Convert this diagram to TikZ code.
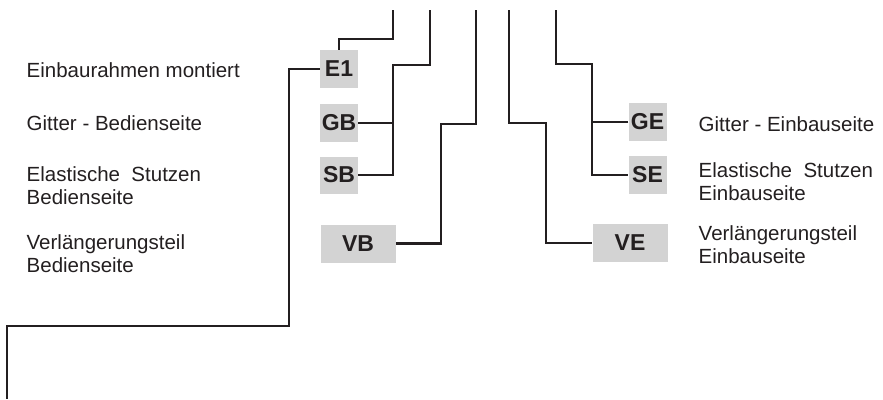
\documentclass[tikz,border=0pt]{standalone}
\usepackage{fontspec}
\setmainfont{Liberation Sans}
\usepackage{tikz}
\usetikzlibrary{positioning}
\definecolor{cBox}{HTML}{D3D3D3}
\definecolor{cLine}{HTML}{231F20}

\begin{document}
\begin{tikzpicture}[
  x=1pt, y=-1pt,
  tag/.style={
    fill=cBox, inner sep=0pt, minimum height=38pt,
    font=\fontsize{23}{24}\selectfont\bfseries, text=cLine
  },
  tagS/.style={tag, minimum width=38pt},
  tagW/.style={tag, minimum width=75pt},
  lbl/.style={
    anchor=base west, inner sep=0pt, align=left,
    font=\fontsize{20.5}{23}\selectfont, text=cLine
  },
  wire/.style={draw=cLine, line width=2.5pt},
]
\useasboundingbox (0,0) rectangle (883,399);
% boxes, left
\node[tagS] (E1) at (339,69) {E1};
\node[tagS] (GB) at (339,123) {GB};
\node[tagS, minimum height=37pt] (SB) at (339,175) {SB};
\node[tagW] (VB) at (358,243.5) {VB};
% boxes, right
\node[tagS] (GE) at (647.5,122) {GE};
\node[tagS] (SE) at (647.5,175) {SE};
\node[tagW] (VE) at (630,243) {VE};
% texts (base = last line)
\node[lbl] (lE1) at (26.5,77) {Einbaurahmen montiert};
\node[lbl] (lGB) at (26.5,130) {Gitter - Bedienseite};
\node[lbl] (lSB) at (26.5,204) {Elastische\ \ Stutzen\\Bedienseite};
\node[lbl] (lVB) at (26.5,272) {Verlängerungsteil\\Bedienseite};
\node[lbl] (lGE) at (698.5,131) {Gitter - Einbauseite};
\node[lbl] (lSE) at (698.5,200) {Elastische\ \ Stutzen\\Einbauseite};
\node[lbl] (lVE) at (698.5,263) {Verlängerungsteil\\Einbauseite};
% free ends
\coordinate (t1) at (393,10);
\coordinate (t2) at (430,10);
\coordinate (t3) at (476,10);
\coordinate (t4) at (509,10);
\coordinate (t5) at (556,10);
\coordinate (b0) at (7,399);
% wires
\draw[wire] (t1) |- (338,39) -- (338,39 -| E1.north) -- (E1.north);
\draw[wire] (t2) |- (393,65) |- (SB.east);
\draw[wire] (GB.east) -| (393,123);
\draw[wire] (t3) |- (441,124) |- (VB.east);
\draw[wire] (t4) |- (546,123) |- (VE.west);
\draw[wire] (t5) |- (592,64) |- (SE.west);
\draw[wire] (GE.west) -| (592,122);
\draw[wire] (E1.west) -| (289,326) -| (b0);
\end{tikzpicture}
\end{document}
